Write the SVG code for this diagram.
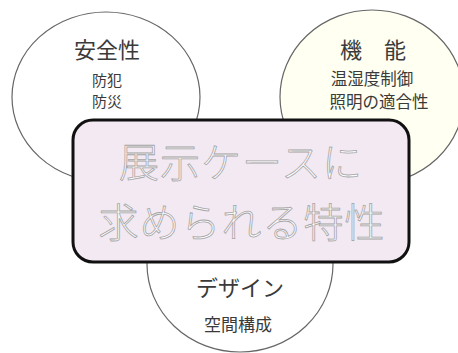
<svg xmlns="http://www.w3.org/2000/svg" width="458" height="353" viewBox="0 0 458 353">
<style>
.bub{stroke:#666;stroke-width:1.2}
.t{font-family:"Noto Sans CJK JP",sans-serif;fill:#3a3a3a;text-anchor:middle}
.big{font-family:"Noto Sans CJK JP",sans-serif;font-size:40px;font-weight:300;fill:#fdfbfd;stroke:#a5a5a5;stroke-width:0.8;text-anchor:middle;letter-spacing:1px}
</style>
<rect width="458" height="353" fill="#fff"/>
<g id="safety">
<ellipse class="bub" cx="106" cy="97" rx="94" ry="85" fill="#fff"/>
<text class="t" x="107" y="58" font-size="22">安全性</text>
<text class="t" x="107" y="86" font-size="15">防犯</text>
<text class="t" x="107" y="107" font-size="15">防災</text>
</g>
<g id="function">
<ellipse class="bub" cx="372" cy="97" rx="92" ry="87" fill="#fffff2"/>
<text class="t" x="373" y="58" font-size="22">機　能</text>
<text class="t" x="372" y="85" font-size="16.5">温湿度制御</text>
<text class="t" x="379" y="108" font-size="16.5">照明の適合性</text>
</g>
<g id="design">
<ellipse class="bub" cx="240" cy="264" rx="93" ry="88" fill="#fff"/>
<text class="t" x="240" y="296" font-size="22">デザイン</text>
<text class="t" x="238" y="331" font-size="17">空間構成</text>
</g>
<g id="center">
<rect x="73" y="120" width="336" height="142" rx="20" fill="#f3e9f3" stroke="#111" stroke-width="3"/>
<text class="big" x="241" y="177">展示ケースに</text>
<text class="big" x="242" y="237">求められる特性</text>
</g>
<g id="connectors"></g>
</svg>
